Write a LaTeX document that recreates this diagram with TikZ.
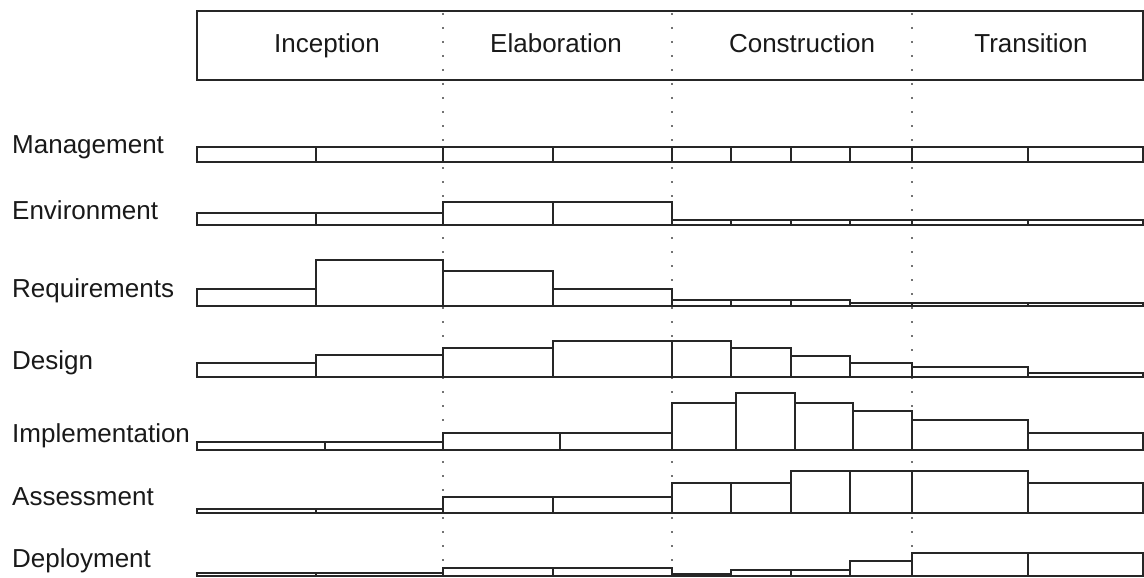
\documentclass[tikz,border=0pt]{standalone}
\usepackage{fontspec}
\setmainfont{Liberation Sans}
\begin{document}
\begin{tikzpicture}[x=1pt,y=-1pt,
  bar/.style={draw=black!85,line width=1.7pt,line join=miter},
  phasebox/.style={draw=black!85,line width=2pt},
  guide/.style={draw=black!55,line width=1.7pt,dash pattern=on 1.7pt off 12.3pt},
  lbl/.style={anchor=base west,inner sep=0pt,font=\fontsize{26}{30}\selectfont,text=black!90},
  phl/.style={anchor=base,inner sep=0pt,font=\fontsize{26}{30}\selectfont,text=black!90}]
\useasboundingbox (0,0) rectangle (1144,578);
% phase box
\draw[phasebox] (197,11) rectangle (1143,80);
\node[phl] (inc) at (327,53) {Inception};
\node[phl] (ela) at (556,53) {Elaboration};
\node[phl] (con) at (802,53) {Construction};
\node[phl] (tra) at (1031,53) {Transition};
% guides
\foreach \gx in {443,672,912} \draw[guide] (\gx,13) -- (\gx,578);
% rows
\newcommand\wfrow[2]{%
  \foreach \xa/\xb/\ty in {#2} \draw[bar] (\xa,#1) rectangle (\xb,\ty);}
\wfrow{162}{197/316/147,316/443/147,443/553/147,553/672/147,672/731/147,731/791/147,791/850/147,850/912/147,912/1028/147,1028/1143/147}
\wfrow{225}{197/316/213,316/443/213,443/553/202,553/672/202,672/731/220,731/791/220,791/850/220,850/912/220,912/1028/220,1028/1143/220}
\wfrow{306}{197/316/289,316/443/260,443/553/271,553/672/289,672/731/300,731/791/300,791/850/300,850/912/303,912/1028/303,1028/1143/303}
\wfrow{377}{197/316/363,316/443/355,443/553/348,553/672/341,672/731/341,731/791/348,791/850/356,850/912/363,912/1028/367,1028/1143/373}
\wfrow{450}{197/325/442,325/443/442,443/560/433,560/672/433,672/736/403,736/795/393,795/853/403,853/912/411,912/1028/420,1028/1143/433}
\wfrow{513}{197/316/509,316/443/509,443/553/497,553/672/497,672/731/483,731/791/483,791/850/471,850/912/471,912/1028/471,1028/1143/483}
\wfrow{576}{197/316/573,316/443/573,443/553/568,553/672/568,672/731/574,731/791/570,791/850/570,850/912/561,912/1028/553,1028/1143/553}
% labels
\node[lbl] (lman) at (12,153) {Management};
\node[lbl] (lenv) at (12,219) {Environment};
\node[lbl] (lreq) at (12,297) {Requirements};
\node[lbl] (ldes) at (12,369) {Design};
\node[lbl] (limp) at (12,442) {Implementation};
\node[lbl] (lass) at (12,505) {Assessment};
\node[lbl] (ldep) at (12,567) {Deployment};
\end{tikzpicture}
\end{document}
